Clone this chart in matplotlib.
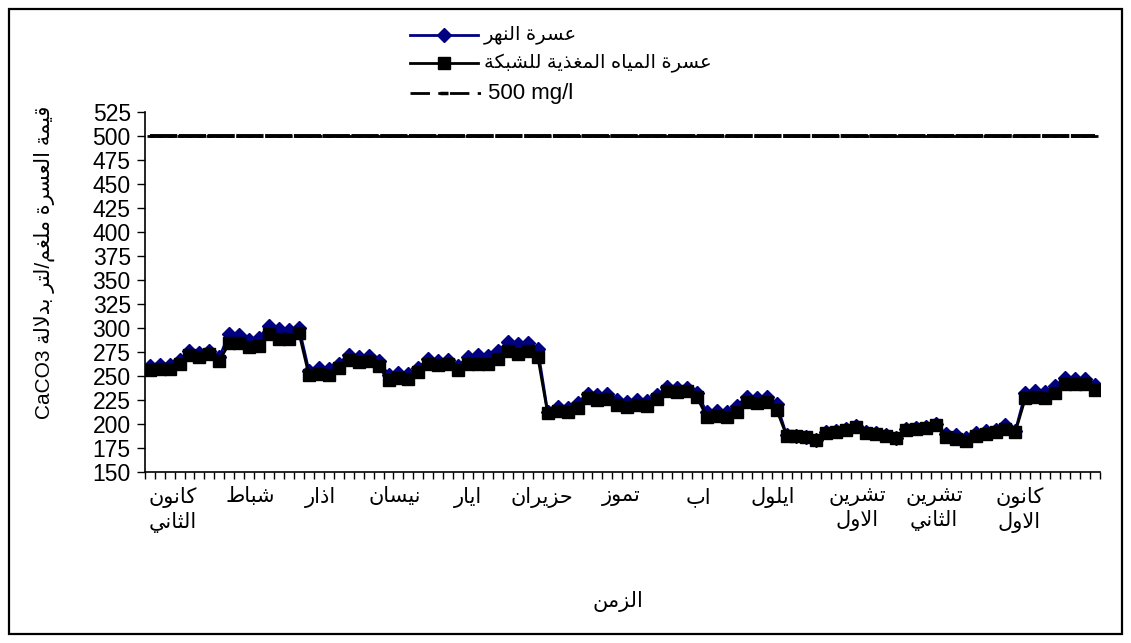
import matplotlib
matplotlib.use("Agg")
import matplotlib.pyplot as plt
from matplotlib.lines import Line2D
from matplotlib.patches import Rectangle
import numpy as np

# ---------------- data ----------------
river_hardness = [
    260, 261.5, 261, 267, 276, 273.5, 276, 269.5,
    294, 293, 288, 290, 302.5, 298.5, 297.5, 300.5,
    255.5, 258, 257, 263, 272, 270, 271, 265.5,
    251.5, 253, 252.5, 258.5, 268, 266, 267, 260.5,
    269.5, 272, 270.5, 276, 285.5, 283.5, 284.5, 278,
    212, 218, 216.5, 222, 231.5, 230, 231.5, 224.5,
    222.5, 224.5, 223.5, 230, 238.5, 237, 238, 232,
    212, 213.5, 213, 219, 228, 227.5, 228, 221,
    188.5, 187.5, 186.5, 183.5, 191.5, 192.5, 194.5, 197.5,
    191.5, 190.5, 188.5, 185.5, 194.5, 195.5, 196.5, 199.5,
    190, 188.5, 185, 191, 193, 193.5, 198.5, 193,
    232, 234, 233, 239.5, 248, 247, 247, 240.5,
]
network_hardness = [
    256, 257, 257, 263, 272, 270, 273, 266,
    284, 284, 280, 281, 294, 289, 289, 295,
    251, 252, 251, 258, 267, 265, 266, 260,
    246, 248, 247, 254, 263, 261, 262, 256,
    262, 263, 262, 268, 276, 273, 276, 270,
    211, 214, 212, 217, 227, 225, 226, 220,
    218, 220, 219, 226, 234, 233, 234, 228,
    207, 208, 207, 213, 223, 222, 223, 215,
    188, 187, 186, 183, 191, 192, 194, 197,
    191, 190, 188, 185, 194, 195, 196, 199,
    186, 184, 182, 188, 190, 192, 195, 192,
    227, 228, 227, 232, 242, 242, 242, 235,
]
limit_500 = [500] * 96

month_labels = ["كانون الثاني", "شباط", "اذار", "نيسان", "ايار", "حزيران",
                "تموز", "اب", "ايلول", "تشرين الاول", "تشرين الثاني", "كانون الاول"]
month_label_pos = [2.3, 10.1, 17.2, 24.6, 32.0, 39.4, 47.4, 55.1, 62.6, 71.1, 78.8, 87.4]
y_ticks = list(range(150, 526, 25))

series_names = ["عسرة النهر", "عسرة المياه المغذية للشبكة", "500 mg/l"]
y_title_ar = "قيمة العسرة ملغم/لتر بدلالة"
y_title_lat = "CaCO3"
x_title = "الزمن"

# -------------- Arabic shaping (no shaping engine in matplotlib) --------------
AR_FORMS = {
    'ا': ('\uFE8D', '\uFE8E', None, None),
    'ب': ('\uFE8F', '\uFE90', '\uFE91', '\uFE92'),
    'ة': ('\uFE93', '\uFE94', None, None),
    'ت': ('\uFE95', '\uFE96', '\uFE97', '\uFE98'),
    'ث': ('\uFE99', '\uFE9A', '\uFE9B', '\uFE9C'),
    'ج': ('\uFE9D', '\uFE9E', '\uFE9F', '\uFEA0'),
    'ح': ('\uFEA1', '\uFEA2', '\uFEA3', '\uFEA4'),
    'خ': ('\uFEA5', '\uFEA6', '\uFEA7', '\uFEA8'),
    'د': ('\uFEA9', '\uFEAA', None, None),
    'ذ': ('\uFEAB', '\uFEAC', None, None),
    'ر': ('\uFEAD', '\uFEAE', None, None),
    'ز': ('\uFEAF', '\uFEB0', None, None),
    'س': ('\uFEB1', '\uFEB2', '\uFEB3', '\uFEB4'),
    'ش': ('\uFEB5', '\uFEB6', '\uFEB7', '\uFEB8'),
    'ط': ('\uFEC1', '\uFEC2', '\uFEC3', '\uFEC4'),
    'ع': ('\uFEC9', '\uFECA', '\uFECB', '\uFECC'),
    'غ': ('\uFECD', '\uFECE', '\uFECF', '\uFED0'),
    'ف': ('\uFED1', '\uFED2', '\uFED3', '\uFED4'),
    'ق': ('\uFED5', '\uFED6', '\uFED7', '\uFED8'),
    'ك': ('\uFED9', '\uFEDA', '\uFEDB', '\uFEDC'),
    'ل': ('\uFEDD', '\uFEDE', '\uFEDF', '\uFEE0'),
    'م': ('\uFEE1', '\uFEE2', '\uFEE3', '\uFEE4'),
    'ن': ('\uFEE5', '\uFEE6', '\uFEE7', '\uFEE8'),
    'ه': ('\uFEE9', '\uFEEA', '\uFEEB', '\uFEEC'),
    'و': ('\uFEED', '\uFEEE', None, None),
    'ي': ('\uFEF1', '\uFEF2', '\uFEF3', '\uFEF4'),
}


def shape(s):
    out = []
    n = len(s)
    i = 0
    while i < n:
        c = s[i]
        if c not in AR_FORMS:
            out.append(c)
            i += 1
            continue
        prev = s[i - 1] if i > 0 else None
        jp = prev is not None and prev in AR_FORMS and AR_FORMS[prev][2] is not None
        if c == 'ل' and i + 1 < n and s[i + 1] == 'ا':
            out.append('\uFEFC' if jp else '\uFEFB')
            i += 2
            continue
        nxt = s[i + 1] if i + 1 < n else None
        jn = AR_FORMS[c][2] is not None and nxt is not None and nxt in AR_FORMS
        iso, fin, ini, med = AR_FORMS[c]
        if jp and jn:
            out.append(med)
        elif jp:
            out.append(fin)
        elif jn:
            out.append(ini)
        else:
            out.append(iso)
        i += 1
    return ''.join(out)


def ar(s):
    return shape(s)[::-1]


FONTS = ['Liberation Sans', 'DejaVu Sans']
plt.rcParams['font.family'] = FONTS

W, H = 1131, 643
fig = plt.figure(figsize=(W / 100, H / 100), dpi=100)
fig.patch.set_facecolor('white')


def fx(px):
    return px / W


def fy(py):
    return 1 - py / H


# outer chart border
fig.patches.append(Rectangle((fx(9), fy(634)), fx(1122) - fx(9), fy(9) - fy(634),
                             transform=fig.transFigure, fill=False,
                             edgecolor='black', lw=1.6))

ax = fig.add_axes([fx(144.7), fy(472), fx(1100) - fx(144.7), fy(112) - fy(472)])
x = np.arange(len(network_hardness))

ax.plot(x, limit_500, color='black', lw=2.8, ls=(0, (7, 0.4)), marker='_', ms=5, mew=2,
        zorder=2)
ax.plot(x, river_hardness, color='#000080', lw=2, marker='D', ms=7,
        mfc='#000080', mec='#000080', zorder=3)
ax.plot(x, network_hardness, color='black', lw=2, marker='s', ms=8.5,
        mfc='black', mec='black', zorder=4)

ax.set_xlim(-0.5, len(x) - 0.5)
ax.set_ylim(150, 525)
ax.set_yticks(y_ticks)
ax.set_yticklabels([str(v) for v in y_ticks], fontsize=16.5)
ax.tick_params(axis='y', direction='out', length=6, width=1, pad=4)

ax.set_xticks(month_label_pos)
ax.set_xticklabels(['\n'.join(ar(w) for w in lab.split(' ')) for lab in month_labels],
                   fontsize=15, linespacing=1.25)
ax.tick_params(axis='x', which='major', length=0, pad=11)
ax.set_xticks(np.arange(-0.5, len(x), 1), minor=True)
ax.tick_params(axis='x', which='minor', direction='out', length=5, width=1)

for s in ['top', 'right']:
    ax.spines[s].set_visible(False)
for s in ['left', 'bottom']:
    ax.spines[s].set_color('black')
    ax.spines[s].set_linewidth(1.2)
ax.set_facecolor('white')

# axis titles
fig.text(fx(44), fy(262), y_title_lat + ' ' + ar(y_title_ar), rotation=90,
         ha='center', va='center', fontsize=15)
fig.text(fx(618), fy(601), ar(x_title), ha='center', va='center', fontsize=15)

# legend (drawn by hand to match the Excel layout)
rows_y = [35, 63, 93]
key_x0, key_x1, key_mid, text_x = 410, 478, 444, 484
fig.add_artist(Line2D([fx(key_x0), fx(key_x1)], [fy(rows_y[0])] * 2,
                      transform=fig.transFigure, color='#000080', lw=2))
fig.add_artist(Line2D([fx(key_mid)], [fy(rows_y[0])], transform=fig.transFigure,
                      color='#000080', marker='D', ms=7, lw=0))
fig.add_artist(Line2D([fx(key_x0), fx(key_x1)], [fy(rows_y[1])] * 2,
                      transform=fig.transFigure, color='black', lw=2))
fig.add_artist(Line2D([fx(key_mid)], [fy(rows_y[1])], transform=fig.transFigure,
                      color='black', marker='s', ms=8.5, lw=0))
fig.add_artist(Line2D([fx(key_x0), fx(key_x1 + 5)], [fy(rows_y[2])] * 2,
                      transform=fig.transFigure, color='black', lw=2,
                      ls=(0, (7, 3, 1.2, 3))))
fig.add_artist(Line2D([fx(key_mid)], [fy(rows_y[2])], transform=fig.transFigure,
                      color='black', marker='_', ms=6, mew=2.5, lw=0))
fig.text(fx(text_x), fy(rows_y[0]), ar(series_names[0]), ha='left', va='center', fontsize=14)
fig.text(fx(text_x), fy(rows_y[1]), ar(series_names[1]), ha='left', va='center', fontsize=14)
fig.text(fx(text_x + 4), fy(rows_y[2]), series_names[2], ha='left', va='center', fontsize=16)

fig.savefig('out.png', dpi=100, facecolor='white')
